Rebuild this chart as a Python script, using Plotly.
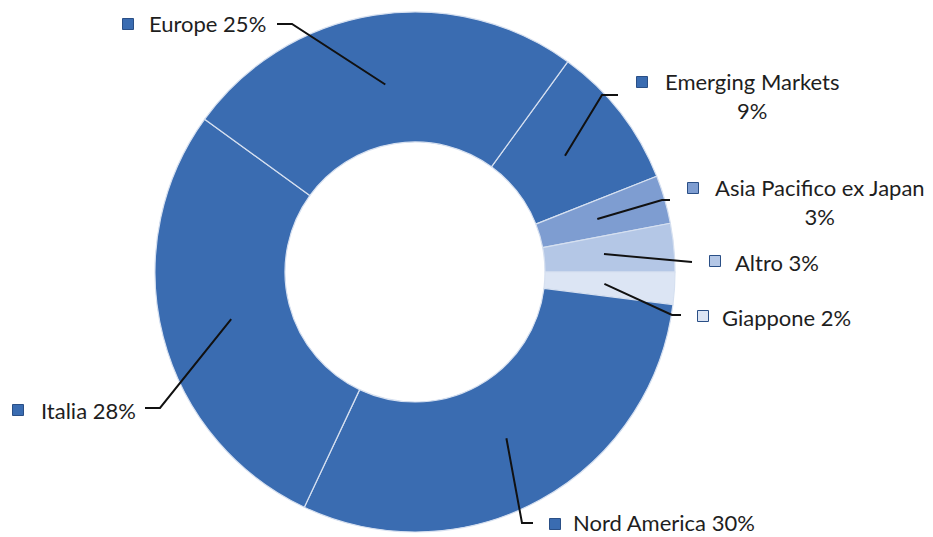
import math
import plotly.graph_objects as go

# ---------------- data ----------------
labels = ["Emerging Markets", "Asia Pacifico ex Japan", "Altro", "Giappone",
          "Nord America", "Italia", "Europe"]
values = [9, 3, 3, 2, 30, 28, 25]
slice_colors = ["#3a6cb1", "#7e9dd1", "#b4c7e6", "#dce5f4",
                "#3a6cb1", "#3a6cb1", "#3a6cb1"]

# ---------------- layout constants ----------------
W, H = 933, 537
CX, CY, R = 415, 272, 260
HOLE = 0.5
ROT = 36            # first slice starts 36deg clockwise from 12 o'clock
LEAD_R = 0.73       # leader line start (fraction of outer radius)
FONT = "Lato"
FSIZE = 22

# per label: text anchor point + anchor, marker position, elbow point, line end (pixels)
label_pos = {
    "Europe":                 dict(t=(268, 23), xa="right", lines=1, m=(128, 24), elbow=(292, 24), end=(277, 24)),
    "Emerging Markets":       dict(t=(752, 96), xa="center", lines=2, m=(642, 82), elbow=(602, 95), end=(618, 95)),
    "Asia Pacifico ex Japan": dict(t=(820, 202), xa="center", lines=2, m=(693, 188), elbow=(662, 200), end=(670, 200)),
    "Altro":                  dict(t=(733, 262), xa="left", lines=1, m=(715, 261), elbow=None, end=(692, 262)),
    "Giappone":               dict(t=(720, 317), xa="left", lines=1, m=(703, 316), elbow=(672, 315), end=(681, 315)),
    "Nord America":           dict(t=(571, 522), xa="left", lines=1, m=(555, 524), elbow=(522, 523), end=(533, 523)),
    "Italia":                 dict(t=(138, 410), xa="right", lines=1, m=(18, 410), elbow=(160, 408), end=(145, 408)),
}

total = sum(values)

fig = go.Figure()

fig.add_trace(go.Pie(
    labels=labels, values=values, sort=False, direction="clockwise",
    rotation=ROT, hole=HOLE, textinfo="none", hoverinfo="label+percent",
    marker=dict(colors=slice_colors, line=dict(color="#d6e0f0", width=1.2)),
    domain=dict(x=[(CX - R) / W, (CX + R) / W],
                y=[1 - (CY + R) / H, 1 - (CY - R) / H]),
    showlegend=False,
))

shapes = []
annotations = []
mx, my, mc = [], [], []
cum = 0
for lab, v, col in zip(labels, values, slice_colors):
    mid = math.radians(ROT + 360 * (cum + v / 2) / total)
    cum += v
    sx = CX + LEAD_R * R * math.sin(mid)
    sy = CY - LEAD_R * R * math.cos(mid)
    p = label_pos[lab]
    pts = [(sx, sy)]
    if p["elbow"]:
        pts.append(p["elbow"])
    pts.append(p["end"])
    path = "M " + " L ".join(f"{x:.1f},{y:.1f}" for x, y in pts)
    shapes.append(dict(type="path", path=path, xref="x", yref="y",
                       line=dict(color="#111111", width=2), layer="above"))
    pct = f"{v}%"
    text = f"{lab}<br>{pct}" if p["lines"] == 2 else f"{lab} {pct}"
    annotations.append(dict(x=p["t"][0], y=p["t"][1], xref="x", yref="y",
                            text=text, showarrow=False, align="center",
                            xanchor=p["xa"], yanchor="middle",
                            font=dict(family=FONT, size=FSIZE, color="#1e1e1e")))
    mx.append(p["m"][0]); my.append(p["m"][1]); mc.append(col)

fig.add_trace(go.Scatter(
    x=mx, y=my, mode="markers", hoverinfo="skip", showlegend=False,
    marker=dict(symbol="square", size=11, color=mc,
                line=dict(color="#2a4f86", width=1)),
))

fig.update_layout(
    width=W, height=H, margin=dict(l=0, r=0, t=0, b=0),
    paper_bgcolor="white", plot_bgcolor="rgba(0,0,0,0)",
    xaxis=dict(range=[0, W], visible=False, fixedrange=True, domain=[0, 1]),
    yaxis=dict(range=[H, 0], visible=False, fixedrange=True, domain=[0, 1]),
    shapes=shapes, annotations=annotations,
)

fig.write_html("out.html", config={"displayModeBar": False},
               post_script="document.body.style.margin='0';document.body.style.overflow='hidden';")
